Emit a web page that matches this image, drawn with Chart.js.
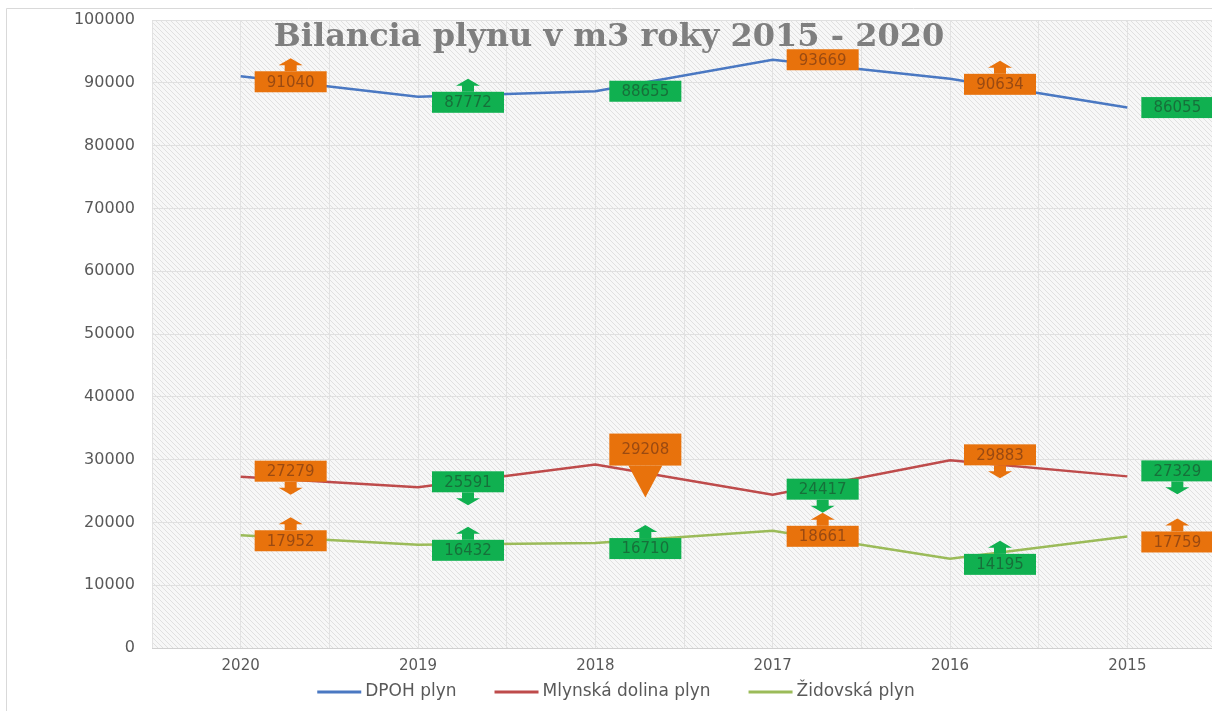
<!DOCTYPE html>
<html>
<head>
<meta charset="utf-8">
<script src="https://cdn.jsdelivr.net/npm/chart.js@4"></script>
<style>
  html, body { margin: 0; padding: 0; background: #fff; overflow: hidden; }
  #wrap { width: 1216px; height: 711px; }
</style>
</head>
<body>
<div id="wrap"><canvas id="chart" width="1216" height="711"></canvas></div>
<script>
// data
const years = ['2020', '2019', '2018', '2017', '2016', '2015'];
const dpoh = [91040, 87772, 88655, 93669, 90634, 86055];
const mlynska = [27279, 25591, 29208, 24417, 29883, 27329];
const zidovska = [17952, 16432, 16710, 18661, 14195, 17759];
const seriesNames = ['DPOH plyn', 'Mlynská dolina plyn', 'Židovská plyn'];
const chartTitle = 'Bilancia plynu v m3 roky 2015 - 2020';

// callout look for each label (o = orange, g = green)
const calloutColors = [
  ['o', 'g', 'g', 'o', 'o', 'g'],
  ['o', 'g', 'o', 'g', 'o', 'g'],
  ['o', 'g', 'g', 'o', 'g', 'o'],
];
const calloutArrows = [
  ['up', 'up', 'none', 'none', 'up', 'none'],
  ['down', 'down', 'big', 'down', 'down', 'down'],
  ['up', 'up', 'up', 'up', 'up', 'up'],
];

const lineColors = ['#4a78c2', '#be4b4b', '#9bbb59'];
const boxFill = { o: '#e8720c', g: '#10b050' };
const boxText = { o: '#9a4a12', g: '#17703a' };

// light diagonal hatch used behind the plot
const hatch = (() => {
  const c = document.createElement('canvas');
  c.width = 5; c.height = 5;
  const g = c.getContext('2d');
  g.fillStyle = '#f7f7f7';
  g.fillRect(0, 0, 5, 5);
  g.strokeStyle = '#e0e0e0';
  g.lineWidth = 1;
  g.beginPath();
  g.moveTo(-1, -1); g.lineTo(6, 6);
  g.moveTo(-1, 4); g.lineTo(1, 6);
  g.moveTo(4, -1); g.lineTo(6, 1);
  g.stroke();
  return c;
})();

const backgroundPlugin = {
  id: 'background',
  beforeDraw(chart) {
    const { ctx, chartArea: a } = chart;
    ctx.save();
    ctx.fillStyle = '#fff';
    ctx.fillRect(0, 0, chart.width, chart.height);
    ctx.strokeStyle = '#d9d9d9';
    ctx.lineWidth = 1;
    ctx.beginPath();
    ctx.moveTo(6.5, chart.height);
    ctx.lineTo(6.5, 8.5);
    ctx.lineTo(chart.width, 8.5);
    ctx.stroke();
    ctx.fillStyle = ctx.createPattern(hatch, 'repeat');
    ctx.fillRect(a.left, a.top, a.right - a.left, a.bottom - a.top);
    ctx.restore();
  }
};

const titlePlugin = {
  id: 'overlayTitle',
  afterDatasetsDraw(chart) {
    const ctx = chart.ctx;
    ctx.save();
    ctx.font = 'bold 32px "DejaVu Serif"';
    ctx.fillStyle = '#7f7f7f';
    ctx.textAlign = 'center';
    ctx.textBaseline = 'middle';
    ctx.fillText(chartTitle, 609, 38);
    ctx.restore();
  }
};

function drawArrow(ctx, cx, baseY, dir) {
  // dir = -1 up, +1 down
  ctx.beginPath();
  ctx.rect(cx - 6, dir < 0 ? baseY - 7 : baseY, 12, 7);
  ctx.fill();
  const headBase = baseY + dir * 6;
  ctx.beginPath();
  ctx.moveTo(cx - 12, headBase);
  ctx.lineTo(cx + 12, headBase);
  ctx.lineTo(cx, headBase + dir * 7);
  ctx.closePath();
  ctx.fill();
}

const calloutPlugin = {
  id: 'callouts',
  afterDraw(chart) {
    const ctx = chart.ctx;
    ctx.save();
    ctx.font = '15px "DejaVu Sans"';
    ctx.textAlign = 'center';
    ctx.textBaseline = 'middle';
    chart.data.datasets.forEach((ds, d) => {
      const meta = chart.getDatasetMeta(d);
      meta.data.forEach((pt, i) => {
        const col = calloutColors[d][i];
        const arrow = calloutArrows[d][i];
        const w = 72;
        let h = 21;
        const left = pt.x + 14;
        let top;
        if (arrow === 'up') top = pt.y - 5;
        else if (arrow === 'down') top = pt.y + 5 - h;
        else if (arrow === 'big') { h = 32; top = pt.y + 1 - h; }
        else top = pt.y - h / 2;
        const cx = left + w / 2;
        ctx.fillStyle = boxFill[col];
        ctx.fillRect(left, top, w, h);
        if (arrow === 'up') drawArrow(ctx, cx, top, -1);
        if (arrow === 'down') drawArrow(ctx, cx, top + h, 1);
        if (arrow === 'big') {
          ctx.beginPath();
          ctx.moveTo(cx - 17, top + h);
          ctx.lineTo(cx + 17, top + h);
          ctx.lineTo(cx, top + h + 32);
          ctx.closePath();
          ctx.fill();
        }
        ctx.fillStyle = boxText[col];
        ctx.fillText(String(ds.data[i]), cx, top + h / 2 + 1);
      });
    });
    ctx.restore();
  }
};

const legendPlugin = {
  id: 'bottomLegend',
  afterDraw(chart) {
    const ctx = chart.ctx;
    ctx.save();
    ctx.font = '17px "DejaVu Sans"';
    ctx.textBaseline = 'middle';
    const lineLen = 44, gapText = 4, gapItem = 38;
    const widths = chart.data.datasets.map(ds => lineLen + gapText + ctx.measureText(ds.label).width);
    const total = widths.reduce((a, b) => a + b, 0) + gapItem * (widths.length - 1);
    let x = 616 - total / 2;
    const y = 692;
    chart.data.datasets.forEach((ds, d) => {
      ctx.strokeStyle = ds.borderColor;
      ctx.lineWidth = 3;
      ctx.beginPath();
      ctx.moveTo(x, y);
      ctx.lineTo(x + lineLen, y);
      ctx.stroke();
      ctx.fillStyle = '#595959';
      ctx.fillText(ds.label, x + lineLen + gapText, y);
      x += widths[d] + gapItem;
    });
    ctx.restore();
  }
};

const series = [dpoh, mlynska, zidovska];

new Chart(document.getElementById('chart'), {
  type: 'line',
  data: {
    labels: years,
    datasets: series.map((values, i) => ({
      label: seriesNames[i],
      data: values,
      borderColor: lineColors[i],
      backgroundColor: lineColors[i],
      borderWidth: 2.5,
      pointRadius: 0,
      tension: 0,
      fill: false,
      xAxisID: 'x',
    })),
  },
  options: {
    responsive: false,
    animation: false,
    layout: { padding: { top: 20, bottom: 23, left: 0, right: 0 } },
    plugins: {
      legend: { display: false },
      title: { display: false },
      tooltip: { enabled: false },
    },
    scales: {
      x: {
        type: 'category',
        offset: true,
        grid: { display: false },
        border: { display: true, color: '#d0d0d0', width: 1 },
        ticks: {
          color: '#595959',
          padding: 1,
          font: { family: 'DejaVu Sans', size: 15 },
        },
        afterFit: (scale) => {
          scale.height = 40;
          scale.paddingLeft = 0;
          scale.paddingRight = 0;
        },
      },
      xg: {
        type: 'category',
        position: 'bottom',
        labels: Array(13).fill(''),
        offset: false,
        ticks: { display: false },
        grid: { color: '#e2e2e2', drawTicks: false },
        border: { display: false },
        afterFit: (scale) => {
          scale.height = 0;
          scale.paddingLeft = 0;
          scale.paddingRight = 0;
        },
      },
      y: {
        min: 0,
        max: 100000,
        ticks: {
          stepSize: 10000,
          color: '#595959',
          padding: 17,
          font: { family: 'DejaVu Sans', size: 16 },
          callback: (v) => String(v),
        },
        grid: { color: '#e0e0e0', drawTicks: false },
        border: { display: false },
        afterFit: (scale) => {
          scale.width = 152;
          scale.paddingTop = 0;
          scale.paddingBottom = 0;
        },
      },
    },
  },
  plugins: [backgroundPlugin, titlePlugin, calloutPlugin, legendPlugin],
});
</script>
</body>
</html>
